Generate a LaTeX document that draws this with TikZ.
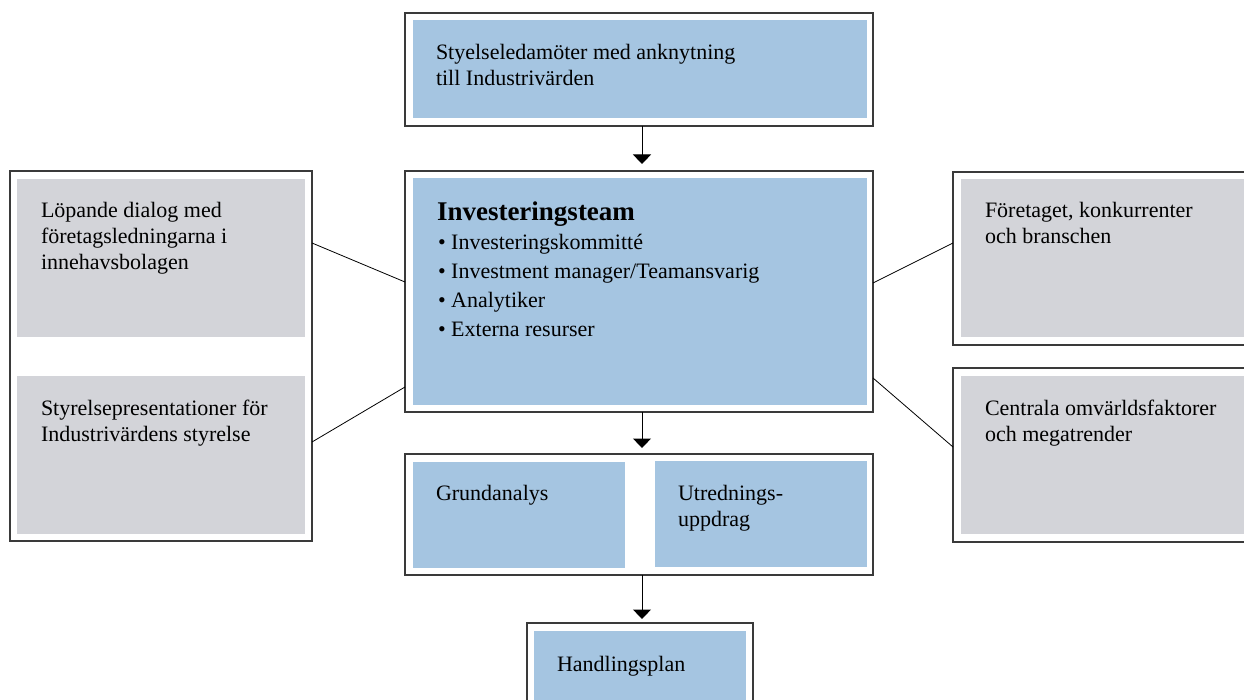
\documentclass[tikz,border=0pt]{standalone}
\usepackage{fontspec}
\setmainfont{Liberation Serif}
\usetikzlibrary{arrows.meta}
\definecolor{boxblue}{HTML}{A5C5E1}
\definecolor{boxgray}{HTML}{D3D4D9}
\definecolor{framecol}{HTML}{3A3A3A}
\newcommand{\mylines}[1]{\begin{tabular}[t]{@{}l@{}}#1\end{tabular}}
\tikzset{
  frame/.style={draw=framecol, line width=1.1pt, fill=white, rectangle, inner sep=0pt, outer sep=0pt, anchor=north west},
  bluefill/.style={fill=boxblue, draw=none, rectangle, inner sep=0pt, outer sep=0pt, anchor=north west},
  grayfill/.style={fill=boxgray, draw=none, rectangle, inner sep=0pt, outer sep=0pt, anchor=north west},
  txt/.style={inner sep=0pt, outer sep=0pt, anchor=base west, font=\fontsize{22}{26}\selectfont},
  bullettxt/.style={inner sep=0pt, outer sep=0pt, anchor=base west, font=\fontsize{22}{29}\selectfont},
  titletxt/.style={inner sep=0pt, outer sep=0pt, anchor=base west, font=\fontsize{27}{30}\selectfont\bfseries},
  arr/.style={draw=black, line width=1pt, -{Triangle[width=18pt,length=9.5pt]}},
  conn/.style={draw=black, line width=0.8pt}
}
\begin{document}
\begin{tikzpicture}[x=1pt,y=-1pt]
\useasboundingbox (0,0) rectangle (1244,700);
\clip (0,0) rectangle (1244,700);
% frames
\node[frame, minimum width=468pt, minimum height=113pt] (ftop) at (405,13) {};
\node[frame, minimum width=468pt, minimum height=241pt] (fcen) at (405,171) {};
\node[frame, minimum width=468pt, minimum height=121pt] (fmid) at (405,454) {};
\node[frame, minimum width=226pt, minimum height=90pt] (fbot) at (527,623) {};
\node[frame, minimum width=302pt, minimum height=370pt] (fleft) at (10,171) {};
\node[frame, minimum width=310pt, minimum height=173pt] (frtop) at (953,172) {};
\node[frame, minimum width=310pt, minimum height=174pt] (frbot) at (953,368) {};
% fills
\node[bluefill, minimum width=454pt, minimum height=98pt] (btop) at (413,20) {};
\node[bluefill, minimum width=454pt, minimum height=227pt] (bcen) at (413,178) {};
\node[bluefill, minimum width=212pt, minimum height=106pt] (bmidl) at (413,462) {};
\node[bluefill, minimum width=212pt, minimum height=106pt] (bmidr) at (655,461) {};
\node[bluefill, minimum width=212pt, minimum height=80pt] (bbot) at (534,631) {};
\node[grayfill, minimum width=288pt, minimum height=158pt] (gl1) at (17,179) {};
\node[grayfill, minimum width=288pt, minimum height=158pt] (gl2) at (17,376) {};
\node[grayfill, minimum width=300pt, minimum height=158pt] (gr1) at (961,179) {};
\node[grayfill, minimum width=300pt, minimum height=158pt] (gr2) at (961,376) {};
% texts
\node[txt] (ttop) at (436,60) {\mylines{Styelseledamöter med anknytning\\till Industrivärden}};
\node[titletxt] (tcen) at (437,221) {Investeringsteam};
\node[bullettxt] (tbul) at (438,250) {\mylines{• Investeringskommitté\\• Investment manager/Teamansvarig\\• Analytiker\\• Externa resurser}};
\node[txt] (tgrund) at (436,500) {Grundanalys};
\node[txt] (tutr) at (678,500) {\mylines{Utrednings-\\uppdrag}};
\node[txt] (thand) at (557,671) {Handlingsplan};
\node[txt] (tl1) at (41,218) {\mylines{Löpande dialog med\\företagsledningarna i\\innehavsbolagen}};
\node[txt] (tl2) at (41,415) {\mylines{Styrelsepresentationer för\\Industrivärdens styrelse}};
\node[txt] (tr1) at (985,218) {\mylines{Företaget, konkurrenter\\och branschen}};
\node[txt] (tr2) at (985,415) {\mylines{Centrala omvärldsfaktorer\\och megatrender}};
% connector coordinates
\coordinate (a1s) at (642,126);
\coordinate (a1e) at (642,164);
\coordinate (a2s) at (642,412);
\coordinate (a2e) at (642,448);
\coordinate (a3s) at (642,575);
\coordinate (a3e) at (642,619);
\coordinate (l1a) at (312,243);
\coordinate (l1b) at (405,282);
\coordinate (l2a) at (312,442);
\coordinate (l2b) at (405,387);
\coordinate (r1a) at (873,283);
\coordinate (r1b) at (953,243);
\coordinate (r2a) at (873,378);
\coordinate (r2b) at (953,447);
% arrows
\draw[arr] (a1s) -- (a1e);
\draw[arr] (a2s) -- (a2e);
\draw[arr] (a3s) -- (a3e);
% connectors
\draw[conn] (l1a) -- (l1b);
\draw[conn] (l2a) -- (l2b);
\draw[conn] (r1a) -- (r1b);
\draw[conn] (r2a) -- (r2b);
\end{tikzpicture}
\end{document}
